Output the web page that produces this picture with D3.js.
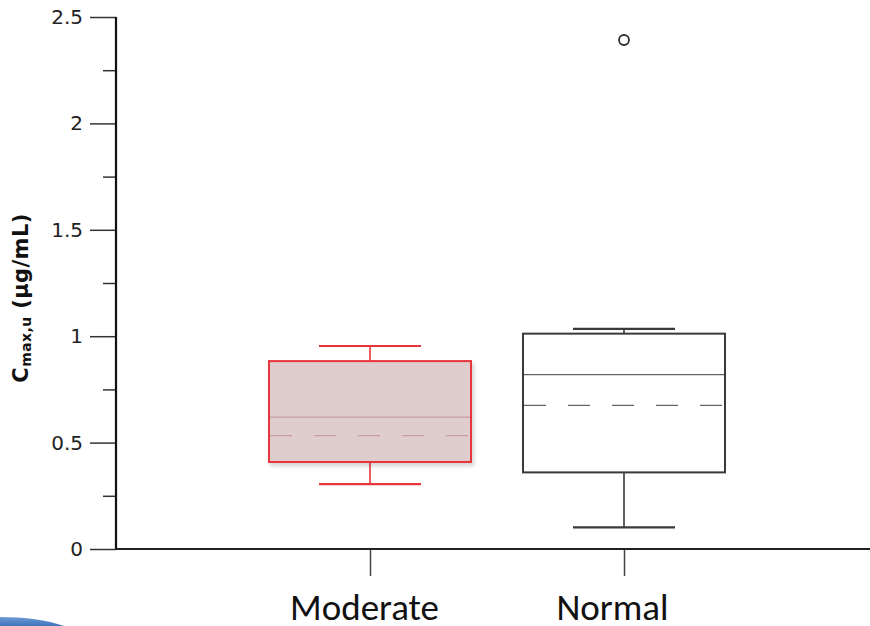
<!DOCTYPE html>
<html>
<head>
<meta charset="utf-8">
<script src="https://cdn.jsdelivr.net/npm/d3@7"></script>
<style>
  html, body { margin: 0; padding: 0; background: #fff; }
  svg { display: block; }
</style>
</head>
<body>
<svg id="chart" width="870" height="626"></svg>
<script>
// Unbound Cmax by group: box summaries
const categories = ["Moderate", "Normal"];
const whiskerLow = [0.305, 0.102];
const q1 = [0.409, 0.360];
const median = [0.620, 0.819];
const mean = [0.533, 0.675];
const q3 = [0.883, 1.012];
const whiskerHigh = [0.954, 1.034];
const outliers = [[], [2.392]];
const yTicks = [0, 0.5, 1, 1.5, 2, 2.5];
const yMinorTicks = [0.25, 0.75, 1.25, 1.75, 2.25];

const svg = d3.select("#chart");
const x0 = 116, yBottom = 549, yTop = 17;
const wideFont = "Verdana, 'DejaVu Sans', 'Bitstream Vera Sans', sans-serif";

const y = d3.scaleLinear().domain([0, 2.5]).range([yBottom, yTop]);
const x = d3.scalePoint().domain(categories).range([370, 624]);

const styles = [
  { stroke: "#e8343a", fill: "#dfcccc", inner: "#c99c9e", shadow: true, labelShift: -6 },
  { stroke: "#3a3a3a", fill: "#fff", inner: "#666", shadow: false, labelShift: -12 }
];

// soft shadow for the tinted box
const defs = svg.append("defs");
const f = defs.append("filter").attr("id", "shadow").attr("x", "-10%").attr("y", "-10%").attr("width", "130%").attr("height", "130%");
f.append("feDropShadow").attr("dx", 2).attr("dy", 3).attr("stdDeviation", 2).attr("flood-color", "#000").attr("flood-opacity", 0.18);
const grad = defs.append("linearGradient").attr("id", "swoosh").attr("x1", 0).attr("x2", 0).attr("y1", 0).attr("y2", 1);
grad.append("stop").attr("offset", "0%").attr("stop-color", "#6f9bd6");
grad.append("stop").attr("offset", "100%").attr("stop-color", "#3f74bd");

// decorative blue swoosh in the lower-left corner
svg.append("path")
  .attr("d", "M0,617 Q38,617 64,626 L0,626 Z")
  .attr("fill", "url(#swoosh)");

const boxW = 202, capW = 102;

categories.forEach((c, i) => {
  const cx = x(c), s = styles[i];
  const g = svg.append("g");
  // whiskers
  g.append("line").attr("x1", cx).attr("x2", cx).attr("y1", y(whiskerHigh[i])).attr("y2", y(q3[i]))
    .attr("stroke", s.stroke).attr("stroke-width", 1.6);
  g.append("line").attr("x1", cx).attr("x2", cx).attr("y1", y(q1[i])).attr("y2", y(whiskerLow[i]))
    .attr("stroke", s.stroke).attr("stroke-width", 1.6);
  [whiskerHigh[i], whiskerLow[i]].forEach(v => {
    g.append("line").attr("x1", cx - capW / 2).attr("x2", cx + capW / 2).attr("y1", y(v)).attr("y2", y(v))
      .attr("stroke", s.stroke).attr("stroke-width", 2.2);
  });
  // box
  g.append("rect")
    .attr("x", cx - boxW / 2).attr("width", boxW)
    .attr("y", y(q3[i])).attr("height", y(q1[i]) - y(q3[i]))
    .attr("fill", s.fill).attr("stroke", s.stroke).attr("stroke-width", 2)
    .attr("filter", s.shadow ? "url(#shadow)" : null);
  // median (solid) and mean (dashed)
  g.append("line").attr("x1", cx - boxW / 2 + 1).attr("x2", cx + boxW / 2 - 1)
    .attr("y1", y(median[i])).attr("y2", y(median[i]))
    .attr("stroke", s.inner).attr("stroke-width", 1.3);
  g.append("line").attr("x1", cx - boxW / 2 + 1).attr("x2", cx + boxW / 2 - 1)
    .attr("y1", y(mean[i])).attr("y2", y(mean[i]))
    .attr("stroke", s.inner).attr("stroke-width", 1.3).attr("stroke-dasharray", "22,22");
  // outliers
  outliers[i].forEach(v => {
    g.append("circle").attr("cx", cx).attr("cy", y(v)).attr("r", 5)
      .attr("fill", "none").attr("stroke", "#333").attr("stroke-width", 1.8);
  });
});

// y axis
const yAxis = d3.axisLeft(y).tickValues(yTicks).tickSize(26).tickPadding(7)
  .tickFormat(d3.format("~g"));
const ya = svg.append("g").attr("transform", `translate(${x0},0)`).call(yAxis);
ya.select(".domain").remove();
ya.selectAll(".tick line").attr("stroke", "#333").attr("stroke-width", 1.5);
ya.selectAll(".tick text")
  .style("font-family", wideFont)
  .style("font-size", "20px").attr("fill", "#222");
const yMinor = svg.append("g").attr("transform", `translate(${x0},0)`)
  .call(d3.axisLeft(y).tickValues(yMinorTicks).tickSize(13).tickFormat(""));
yMinor.select(".domain").remove();
yMinor.selectAll(".tick line").attr("stroke", "#333").attr("stroke-width", 1.5);
svg.append("line").attr("x1", x0).attr("x2", x0).attr("y1", yTop).attr("y2", yBottom)
  .attr("stroke", "#111").attr("stroke-width", 2.2);

// x axis
const xa = svg.append("g").attr("transform", `translate(0,${yBottom})`)
  .call(d3.axisBottom(x).tickSize(27));
xa.select(".domain").remove();
xa.selectAll(".tick line").attr("stroke", "#444").attr("stroke-width", 1.5);
xa.selectAll(".tick text")
  .attr("y", 71).attr("dy", null).attr("dx", (d, i) => styles[i].labelShift)
  .style("font-family", "Carlito, Lato, 'Open Sans', sans-serif")
  .style("font-size", "37px").attr("fill", "#111");
svg.append("line").attr("x1", x0 - 1).attr("x2", 870).attr("y1", yBottom).attr("y2", yBottom)
  .attr("stroke", "#222").attr("stroke-width", 2.2);

// y axis title: C_max,u (µg/mL)
const title = svg.append("text")
  .attr("transform", `translate(28,298) rotate(-90)`)
  .attr("text-anchor", "middle")
  .style("font-family", wideFont)
  .style("letter-spacing", "0.4px")
  .style("font-weight", "bold").style("font-size", "21px").attr("fill", "#111");
title.append("tspan").text("C");
title.append("tspan").style("font-size", "14px").attr("dy", 3).text("max,u");
title.append("tspan").attr("dy", -3).text(" (µg/mL)");
</script>
</body>
</html>
